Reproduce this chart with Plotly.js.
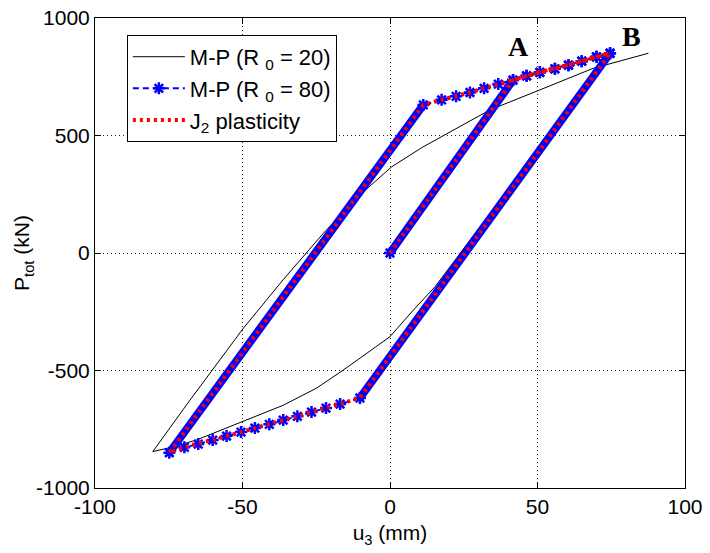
<!DOCTYPE html>
<html>
<head>
<meta charset="utf-8">
<script src="https://cdn.plot.ly/plotly-3.0.1.min.js"></script>
<style>html,body{margin:0;padding:0;background:#fff;}#chart{width:710px;height:553px;}</style>
</head>
<body>
<div id="chart"></div>
<script>
// M-P (R0 = 20): unloading from B, then reloading
const mp20U = [74.6, 15.3, 7.9, 0, -15.8, -24.9, -36.2, -49.7, -57.5, -65.5, -72.5, -80.4, -67.8, -49.7, -36.3, -22.6, -10.2, 0.6, 11.0, 21.5, 33.9, 50.8, 68.9, 87.6];
const mp20P = [850, -143, -243, -356, -498, -575, -648, -716, -758, -795, -822, -845, -626, -320, -115, 84, 247, 367, 450, 523, 609, 694, 786, 850];

// M-P (R0 = 80)
const mp80U = [0, 41.7, 46.3, 50.8, 55.9, 60.5, 65.0, 70.0, 74.6, -10.2, -16.9, -21.7, -26.6, -31.4, -36.2, -40.9, -45.8, -50.5, -55.4, -60.1, -65.0, -69.7, -74.8, 11.3, 17.5, 22.4, 27.1, 31.9, 36.7, 41.7, 46.3, 50.8, 55.9, 60.5, 65.0, 70.0, 74.6];
const mp80P = [0, 736, 754, 769, 784, 799, 816, 835, 850, -617, -643, -660, -677, -695, -711, -729, -745, -762, -779, -796, -813, -827, -850, 630, 652, 667, 683, 701, 719, 736, 754, 769, 784, 799, 816, 835, 850];

// J2 plasticity
const j2U = [0, 41.7, 46.3, 50.8, 55.9, 60.5, 65.0, 70.0, 74.6, -10.2, -16.9, -21.7, -26.6, -31.4, -36.2, -40.9, -45.8, -50.5, -55.4, -60.1, -65.0, -69.7, -74.8, 11.3, 17.5, 22.4, 27.1, 31.9, 36.7, 41.7, 46.3, 50.8, 55.9, 60.5, 65.0, 70.0, 74.6];
const j2P = [0, 736, 754, 769, 784, 799, 816, 835, 850, -617, -643, -660, -677, -695, -711, -729, -745, -762, -779, -796, -813, -827, -850, 630, 652, 667, 683, 701, 719, 736, 754, 769, 784, 799, 816, 835, 850];

const xTicks = [-100, -50, 0, 50, 100];
const yTicks = [-1000, -500, 0, 500, 1000];
const pointLabels = ["A", "B"];
const labelU = [43.7, 81.9];
const labelP = [879, 922];

// elastic (steep) segments of the R0=80 path, drawn as a dense-marker band
const bandU = [], bandP = [];
for (let i = 0; i < mp80U.length - 1; i++) {
  const s = (mp80P[i + 1] - mp80P[i]) / (mp80U[i + 1] - mp80U[i]);
  if (s > 10) { bandU.push(mp80U[i], mp80U[i + 1], null); bandP.push(mp80P[i], mp80P[i + 1], null); }
}

const FONT = 'Liberation Sans, Arial, Helvetica, sans-serif';

const traces = [
  { x: mp20U, y: mp20P, type: 'scatter', mode: 'lines', name: 'M-P (R <sub>0</sub> = 20)',
    line: { color: '#000', width: 1 } },
  { x: bandU, y: bandP, type: 'scatter', mode: 'lines', showlegend: false, hoverinfo: 'skip',
    line: { color: '#0000ff', width: 8 } },
  { x: mp80U, y: mp80P, type: 'scatter', mode: 'lines+markers', name: 'M-P (R <sub>0</sub> = 80)',
    line: { color: '#0000ff', width: 2, dash: '6px,4px' },
    marker: { symbol: 'asterisk-open', size: 10, color: '#0000ff', line: { color: '#0000ff', width: 2.5 } } },
  { x: j2U, y: j2P, type: 'scatter', mode: 'lines', name: 'J<sub>2</sub> plasticity',
    line: { color: '#ff0000', width: 4, dash: '3px,4px' } }
];

const annotations = pointLabels.map((t, i) => ({
  x: labelU[i], y: labelP[i], xref: 'x', yref: 'y', text: '<b>' + t + '</b>', showarrow: false,
  font: { family: 'Liberation Serif, Times New Roman, serif', size: 28, color: '#000' }
}));

const axisCommon = {
  showline: true, mirror: 'ticks', linecolor: '#000', linewidth: 1,
  ticks: 'inside', ticklen: 6, tickcolor: '#000', tickwidth: 1,
  showgrid: true, gridcolor: '#222', gridwidth: 1, griddash: '1px,3px',
  zeroline: false, automargin: false,
  tickfont: { family: FONT, size: 21, color: '#000' }
};

const layout = {
  width: 710, height: 553,
  margin: { l: 95, r: 25, t: 18, b: 65 },
  paper_bgcolor: '#fff', plot_bgcolor: '#fff',
  showlegend: true,
  xaxis: Object.assign({}, axisCommon, {
    range: [-100, 100], tickvals: xTicks, ticktext: xTicks.map(String),
    title: { text: 'u<sub>3</sub> (mm)', font: { family: FONT, size: 21, color: '#000' }, standoff: 8 }
  }),
  yaxis: Object.assign({}, axisCommon, {
    range: [-1000, 1000], tickvals: yTicks, ticktext: yTicks.map(String),
    title: { text: 'P<sub>tot</sub> (kN)', font: { family: FONT, size: 21, color: '#000' }, standoff: 0 }
  }),
  legend: {
    x: 0.054, y: 0.964, xanchor: 'left', yanchor: 'top',
    bgcolor: '#fff', bordercolor: '#000', borderwidth: 1,
    font: { family: FONT, size: 22, color: '#000' },
    itemwidth: 52,
    tracegroupgap: 0
  },
  annotations: annotations
};

Plotly.newPlot('chart', traces, layout, { staticPlot: true, displayModeBar: false });
</script>
</body>
</html>
